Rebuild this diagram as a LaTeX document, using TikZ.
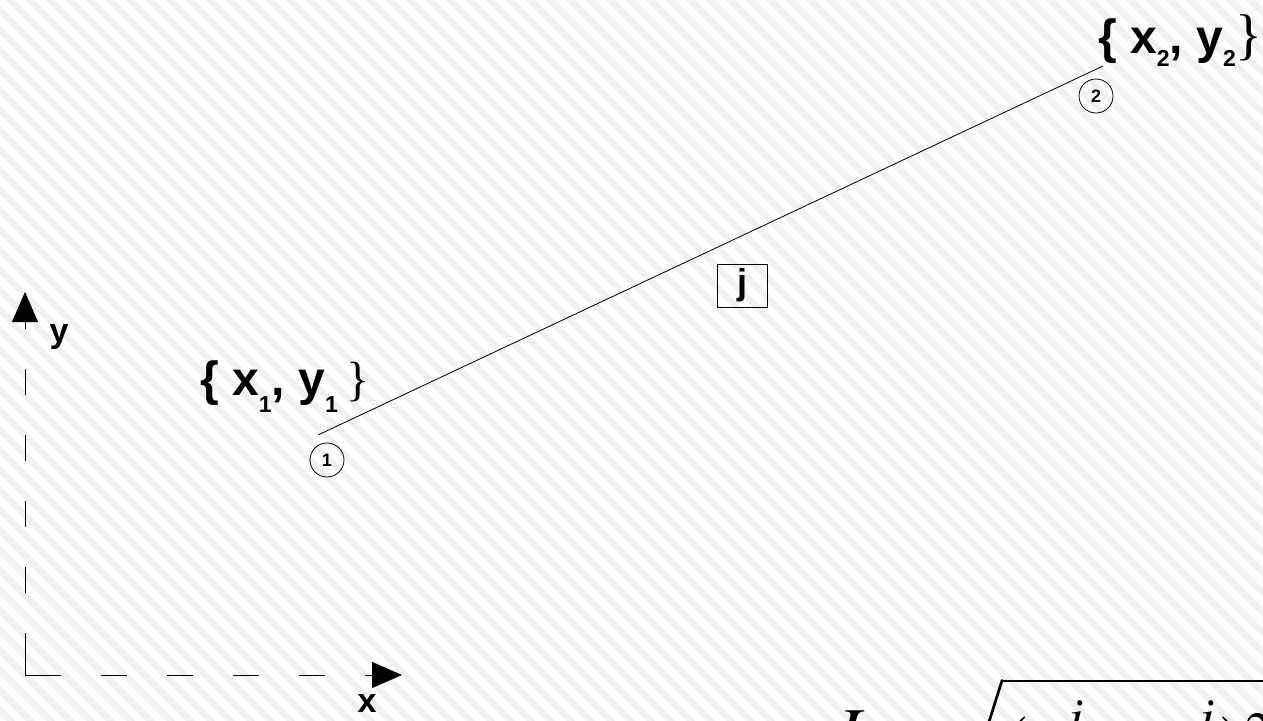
\documentclass[tikz,border=0pt]{standalone}
\usepackage{mathptmx}
\usepackage[no-math]{fontspec}
\newfontfamily\sansf{Liberation Sans}
\newfontfamily\seriff{Liberation Serif}
\usetikzlibrary{arrows.meta}
\newcommand\lowsub[2]{\raisebox{#1}{\fontsize{23}{23}\selectfont #2}}
\tikzset{
  stripe/.style={draw=black!6, line width=6pt},
  axis/.style={line width=1pt, draw=black},
  tipend/.style={-{Triangle[length=30pt,width=26pt]}},
  nodecirc/.style={circle, draw, line width=0.8pt, minimum size=34pt, inner sep=0pt, font=\sansf\bfseries\fontsize{18}{18}\selectfont},
  elembox/.style={draw, line width=0.8pt, minimum width=50pt, minimum height=43pt, inner sep=0pt, font=\sansf\bfseries\fontsize{36}{36}\selectfont},
  coordlabel/.style={anchor=base west, inner sep=0pt, font=\sansf\bfseries\fontsize{48}{48}\selectfont},
  axlabel/.style={inner sep=0pt, font=\sansf\bfseries\fontsize{34}{34}\selectfont},
  member/.style={line width=0.8pt, draw=black},
  formula/.style={anchor=base west, inner sep=0pt, font=\fontsize{70}{70}\selectfont},
}
\begin{document}
\begin{tikzpicture}[x=1pt,y=-1pt]
\useasboundingbox (0,0) rectangle (1263,720);
\clip (0,0) rectangle (1263,720);
\fill[white] (0,0) rectangle (1263,720);
\foreach \i in {-740,-720,...,1280} {
  \draw[stripe] (\i,-10) -- ++(740,740);
}
% member
\coordinate (e1) at (318,435);
\coordinate (e2) at (1103,66);
\draw[member] (e1) -- (e2);
\node[nodecirc] (n1) at (327,460) {1};
\node[nodecirc] (n2) at (1096,96) {2};
\node[elembox] (jb) at (742,285.5) {j};
% coordinate labels
\node[coordlabel] (c1) at (200,395) {\{ x\lowsub{-17pt}{1}, y\lowsub{-17pt}{1}\hspace{9pt}{\seriff\mdseries\}}};
\node[coordlabel] (c2) at (1098,53) {\{ x\lowsub{-13pt}{2}, y\lowsub{-13pt}{2}{\seriff\mdseries\fontsize{56}{56}\selectfont\}}};
% axes
\coordinate (O) at (25,675);
\coordinate (Yt) at (25,292);
\coordinate (Xt) at (402,675);
\draw[axis, tipend, dash pattern=on 42pt off 40pt on 26pt off 40pt on 26pt off 40pt on 26pt off 40pt on 26pt off 40pt on 26pt off 40pt] (O) -- (Yt);
\draw[axis, tipend, dash pattern=on 36pt off 40pt on 26pt off 40pt on 26pt off 40pt on 26pt off 40pt on 26pt off 40pt on 26pt off 40pt] (O) -- (Xt);
\node[axlabel] (ylab) at (59,337) {y};
\node[axlabel] (xlab) at (367,704) {x};
% formula
\node[formula] (lhs) at (836,756) {$L=$};
\node[formula] (rhs) at (932,769) {$\sqrt{(x_2^j-x_1^j)^2+(y_2^j-y_1^j)^2}$};
\end{tikzpicture}
\end{document}
